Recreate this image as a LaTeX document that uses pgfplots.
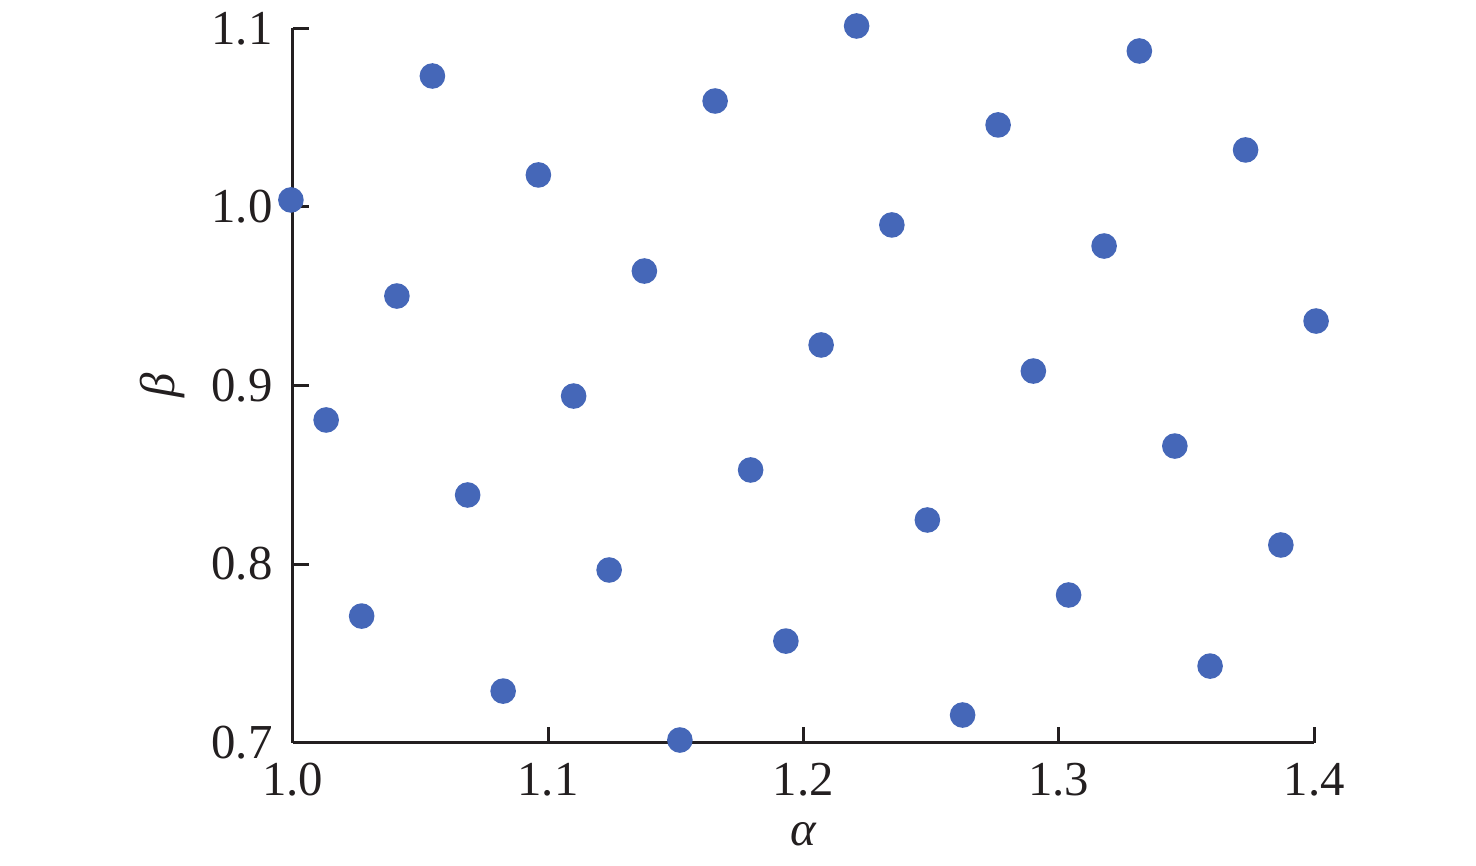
\documentclass[border=0pt]{standalone}
\usepackage{fontspec}
\setmainfont{Liberation Serif}
\usepackage{pgfplots}
\pgfplotsset{compat=1.18}
\definecolor{ptblue}{RGB}{69,103,184}
\definecolor{axblack}{RGB}{35,31,32}
\begin{document}
\begin{tikzpicture}
\path[use as bounding box] (-73.175pt,-30.825pt) rectangle (295.825pt,185.675pt);
\begin{axis}[
  at={(0pt,0pt)}, anchor=south west,
  scale only axis,
  width=255.4pt, height=178.6pt,
  xmin=1.0, xmax=1.4, ymin=0.7, ymax=1.1,
  axis x line*=bottom, axis y line*=left,
  axis on top,
  clip=false,
  xtick={1.0,1.1,1.2,1.3,1.4},
  ytick={0.7,0.8,0.9,1.0,1.1},
  /pgf/number format/assume math mode=true,
  /pgf/number format/fixed,
  /pgf/number format/fixed zerofill,
  /pgf/number format/precision=1,
  tick align=inside,
  major tick length=4pt,
  axis line style={line width=0.75pt, color=axblack},
  tick style={line width=0.75pt, color=axblack},
  ticklabel style={font=\fontsize{12.2}{14}\selectfont, text=axblack},
  xticklabel style={yshift=-1.5pt},
  yticklabel style={xshift=-1.5pt},
  xlabel={\textit{α}},
  ylabel={\textit{β}},
  label style={font=\fontsize{12.2}{14}\selectfont, text=axblack},
  xlabel style={at={(axis description cs:0.5,0)}, anchor=center, yshift=-23pt},
  ylabel style={at={(axis description cs:-0.1273,0.5)}, anchor=center},
]
\addplot[only marks, color=ptblue, mark=*, mark size=3pt, mark options={draw=ptblue, fill=ptblue}] coordinates {
(0.9993,1.0039) (1.0131,0.8807) (1.0270,0.7709) (1.0408,0.9501) (1.0547,1.0733)
(1.0685,0.8387) (1.0824,0.7289) (1.0962,1.0179) (1.1100,0.8941) (1.1239,0.7967)
(1.1377,0.9641) (1.1516,0.7015) (1.1654,1.0593) (1.1793,0.8527) (1.1931,0.7569)
(1.2069,0.9227) (1.2208,1.1013) (1.2346,0.9899) (1.2485,0.8247) (1.2623,0.7155)
(1.2762,1.0459) (1.2900,0.9081) (1.3038,0.7827) (1.3177,0.9781) (1.3315,1.0873)
(1.3454,0.8661) (1.3592,0.7429) (1.3731,1.0319) (1.3869,0.8107) (1.4007,0.9361)
};
\end{axis}
\end{tikzpicture}
\end{document}
